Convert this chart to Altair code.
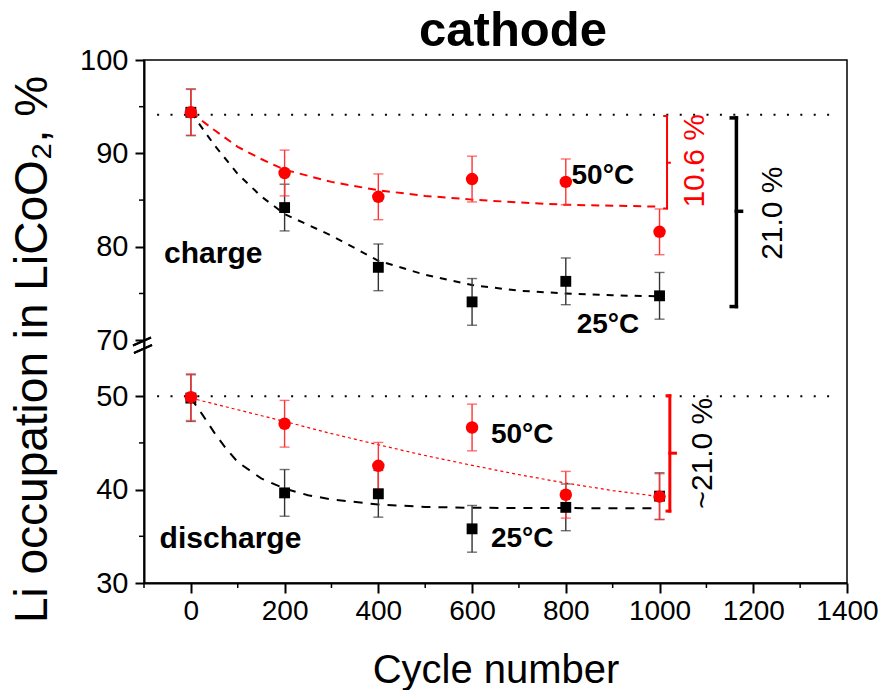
import altair as alt
import pandas as pd

# ---------------- data ----------------
cycles = [0, 200, 400, 600, 800, 1000]

charge_50 = [94.4, 87.9, 85.35, 87.25, 86.95, 81.6]
charge_50_err = [2.45, 2.45, 2.45, 2.45, 2.45, 2.45]
charge_25 = [94.4, 84.2, 77.8, 74.1, 76.3, 74.75]
charge_25_err = [2.5, 2.5, 2.5, 2.5, 2.5, 2.5]

discharge_50 = [49.9, 47.05, 42.55, 46.65, 39.45, 39.25]
discharge_50_err = [2.5, 2.5, 2.5, 2.5, 2.5, 2.45]
discharge_25 = [49.8, 39.65, 39.55, 35.8, 38.1, 39.3]
discharge_25_err = [2.5, 2.5, 2.5, 2.5, 2.5, 2.5]

fit_charge_x = [0, 50, 100, 150, 200, 300, 400, 500, 600, 700, 800, 900, 1000]
fit_charge_50 = [94.4, 92.5, 90.7, 89.4, 88.25, 86.95, 86.05, 85.45, 85.05, 84.75, 84.5, 84.4, 84.3]
fit_charge_25 = [94.4, 90.9, 87.8, 85.4, 83.5, 81.2, 78.5, 77.0, 75.9, 75.3, 75.0, 74.8, 74.7]

fit_dis25_x = [0, 25, 50, 75, 100, 150, 200, 250, 300, 400, 500, 600, 800, 1000]
fit_dis_25 = [49.8, 48.0, 46.1, 44.4, 42.95, 41.2, 40.1, 39.4, 38.95, 38.4, 38.15, 38.05, 38.02, 38.0]
fit_dis50_x = [0, 100, 200, 300, 400, 500, 600, 700, 800, 900, 1000]
fit_dis_50 = [49.8, 48.55, 47.3, 46.0, 44.8, 43.65, 42.6, 41.6, 40.7, 39.9, 39.25]

ref_levels = [94.15, 50.0]
ref_span = [-72, 1375]

x_ticks = [0, 200, 400, 600, 800, 1000, 1200, 1400]
x_minor = [-100, 100, 300, 500, 700, 900, 1100, 1300]
y_major = [30, 40, 50, 70, 80, 90, 100]
y_minor = [35, 45, 75, 85, 95]

# broken axis: lower part 30..56, upper part 70..100 drawn right above it
LOW_TOP = 56
HIGH_BOTTOM = 70
SHIFT = HIGH_BOTTOM - LOW_TOP


def ax(v):
    return v - SHIFT if v >= 60 else v


FONT = "Liberation Sans"
YSCALE = alt.Scale(domain=[30, 86], nice=False, zero=False)

X = alt.X("x:Q",
          scale=alt.Scale(domain=[-100, 1400], nice=False, zero=False),
          axis=alt.Axis(values=x_ticks, title="Cycle number", format="d",
                        titleFontSize=40, titleFontWeight="normal",
                        titleBaseline="alphabetic", titleY=99,
                        labelFontSize=28, tickSize=10, labelPadding=4, labelFlush=False))
Y = alt.Y("yt:Q",
          scale=YSCALE,
          axis=alt.Axis(values=[ax(v) for v in y_major],
                        labelExpr=f"datum.value >= {LOW_TOP} ? datum.value + {SHIFT} : datum.value",
                        title="Li occupation in LiCoO₂, %",
                        titleFontSize=46, titleFontWeight="normal",
                        titleBaseline="alphabetic", titleX=-98, titleY=289,
                        titleAngle=270, titleAlign="center",
                        labelFontSize=29, tickSize=9, labelPadding=7, labelFlush=False))
X2 = alt.X2("x2:Q")
Y2 = alt.Y2("yt2:Q")

# ---------------- tables ----------------
pts_rows = []
for name, vals, errs in [("c50", charge_50, charge_50_err), ("c25", charge_25, charge_25_err),
                         ("d50", discharge_50, discharge_50_err), ("d25", discharge_25, discharge_25_err)]:
    for c, v, e in zip(cycles, vals, errs):
        pts_rows.append({"g": name, "x": c, "yt": ax(v), "lo": ax(v - e), "hi": ax(v + e)})
pts = pd.DataFrame(pts_rows)
red_pts = pts[pts.g.isin(["c50", "d50"])]
blk_pts = pts[pts.g.isin(["c25", "d25"])]

fc50 = pd.DataFrame({"x": fit_charge_x, "yt": [ax(v) for v in fit_charge_50]})
fc25 = pd.DataFrame({"x": fit_charge_x, "yt": [ax(v) for v in fit_charge_25]})
fd25 = pd.DataFrame({"x": fit_dis25_x, "yt": [ax(v) for v in fit_dis_25]})
fd50 = pd.DataFrame({"x": fit_dis50_x, "yt": [ax(v) for v in fit_dis_50]})

refs = pd.DataFrame({"x": [ref_span[0]] * 2, "x2": [ref_span[1]] * 2, "yt": [ax(v) for v in ref_levels]})

# brackets (vertical span, hooks)
br_red_up = {"x": 1016, "top": 94.0, "bot": 84.1, "mid": 89.0}
br_blk = {"x": 1164, "top": 93.8, "bot": 73.6, "mid": 83.8}
br_red_lo = {"x": 1022, "top": 50.05, "bot": 37.7, "mid": 43.9}


def bracket_df(b, hook, tick):
    rows = [
        {"x": b["x"], "x2": b["x"], "yt": ax(b["top"]), "yt2": ax(b["bot"])},
        {"x": b["x"] - hook, "x2": b["x"], "yt": ax(b["top"]), "yt2": ax(b["top"])},
        {"x": b["x"] - hook, "x2": b["x"], "yt": ax(b["bot"]), "yt2": ax(b["bot"])},
        {"x": b["x"], "x2": b["x"] + tick, "yt": ax(b["mid"]), "yt2": ax(b["mid"])},
    ]
    return pd.DataFrame(rows)


labels_bold = pd.DataFrame({
    "x": [879, 890, 707, 707],
    "yt": [ax(87.55), ax(71.67), 45.8, 34.75],
    "t": ["50°C", "25°C", "50°C", "25°C"],
})
labels_phase = pd.DataFrame({"x": [47.7, 84.5], "yt": [ax(78.28), 33.75], "t": ["charge", "discharge"]})
labels_pct = pd.DataFrame({
    "x": [1075, 1242, 1093],
    "yt": [ax(89.2), ax(83.6), 43.9],
    "t": ["10.6 %", "21.0 %", "~21.0 %"],
    "c": ["#ff0000", "#000000", "#000000"],
})
title_df = pd.DataFrame({"t": ["cathode"]})

ymin = pd.DataFrame({"yt": [ax(v) for v in y_minor]})
xmin = pd.DataFrame({"x": x_minor})

# ---------------- layers ----------------
layers = []

layers.append(alt.Chart(refs).mark_rule(color="black", strokeWidth=2, strokeDash=[2, 11.4])
              .encode(x=X, x2=X2, y=Y))

layers.append(alt.Chart(fc50).mark_line(color="#ff0000", strokeWidth=2, strokeDash=[8, 6]).encode(x=X, y=Y))
layers.append(alt.Chart(fc25).mark_line(color="#000000", strokeWidth=2, strokeDash=[7, 7]).encode(x=X, y=Y))
layers.append(alt.Chart(fd25).mark_line(color="#000000", strokeWidth=2, strokeDash=[9, 8]).encode(x=X, y=Y))
layers.append(alt.Chart(fd50).mark_line(color="#ff0000", strokeWidth=1.2, strokeDash=[3, 3]).encode(x=X, y=Y))

for df, col in [(blk_pts, "#333333"), (red_pts, "#ff3333")]:
    layers.append(alt.Chart(df).mark_rule(color=col, strokeWidth=1.4)
                  .encode(x=X, y=alt.Y("lo:Q", scale=YSCALE), y2=alt.Y2("hi:Q")))
    for f in ["lo", "hi"]:
        layers.append(alt.Chart(df).mark_tick(color=col, orient="horizontal", size=10, thickness=1.4)
                      .encode(x=X, y=alt.Y(f"{f}:Q", scale=YSCALE)))

layers.append(alt.Chart(blk_pts).mark_point(shape="square", filled=True, size=118, color="black", opacity=1)
              .encode(x=X, y=Y))
layers.append(alt.Chart(red_pts).mark_point(shape="circle", filled=True, size=155, color="#ff0000", opacity=1)
              .encode(x=X, y=Y))

for b, col, w, hook, tick in [(br_red_up, "#ff0000", 2, 6, 6), (br_blk, "#000000", 3.5, 11, 11),
                              (br_red_lo, "#ff0000", 3, 6, 12)]:
    layers.append(alt.Chart(bracket_df(b, hook, tick)).mark_rule(color=col, strokeWidth=w, strokeCap="square")
                  .encode(x=X, x2=X2, y=Y, y2=Y2))

layers.append(alt.Chart(labels_bold).mark_text(font=FONT, fontSize=28, fontWeight="bold", color="black",
                                               align="center", baseline="middle")
              .encode(x=X, y=Y, text="t:N"))
layers.append(alt.Chart(labels_phase).mark_text(font=FONT, fontSize=30, fontWeight="bold", color="black",
                                                align="center", baseline="alphabetic")
              .encode(x=X, y=Y, text="t:N"))
layers.append(alt.Chart(labels_pct).mark_text(font=FONT, fontSize=30, angle=270,
                                              align="center", baseline="middle")
              .encode(x=X, y=Y, text="t:N", color=alt.Color("c:N", scale=None)))

# chart title, drawn as text above the frame
layers.append(alt.Chart(title_df).mark_text(font=FONT, fontSize=49, fontWeight="bold", color="black",
                                            align="center", baseline="alphabetic")
              .encode(x=alt.value(369), y=alt.value(-14), text="t:N"))

# minor ticks
layers.append(alt.Chart(ymin).mark_rule(color="black", strokeWidth=1.5)
              .encode(x=alt.value(-5), x2=alt.value(0), y=Y))
layers.append(alt.Chart(xmin).mark_rule(color="black", strokeWidth=1.5)
              .encode(x=X, y=alt.value(523), y2=alt.value(528)))

# axis break marks
brk = pd.DataFrame({"a": [0, 1]})
layers.append(alt.Chart(brk).mark_rule(color="black", strokeWidth=2)
              .encode(x=alt.value(-11), x2=alt.value(7), y=alt.value(285.5), y2=alt.value(277.5)))
layers.append(alt.Chart(brk).mark_rule(color="black", strokeWidth=2)
              .encode(x=alt.value(-10), x2=alt.value(8), y=alt.value(293), y2=alt.value(285)))

chart = alt.layer(*layers).properties(
    width=703,
    height=523,
    autosize=alt.AutoSizeParams(type="none"),
    padding={"left": 144, "top": 60, "right": 38, "bottom": 107},
).configure(font=FONT).configure_view(
    stroke="black", strokeWidth=1.5
).configure_axis(
    grid=False, domainColor="black", domainWidth=2, tickColor="black", tickWidth=2,
    labelColor="black", titleColor="black", labelFont=FONT, titleFont=FONT
)

chart.save("out.html", embed_options={"renderer": "svg", "actions": False})
